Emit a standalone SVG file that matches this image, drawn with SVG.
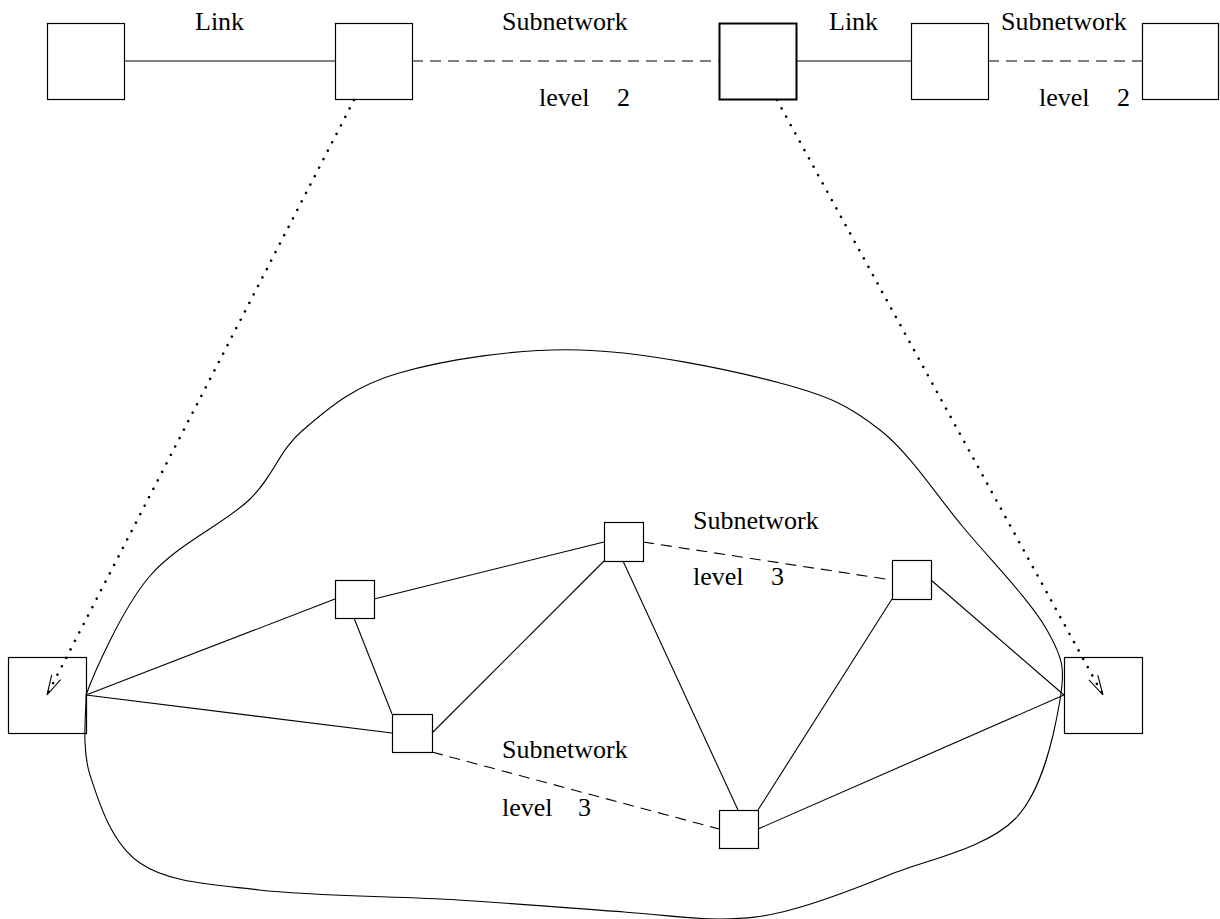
<svg xmlns="http://www.w3.org/2000/svg" width="1220" height="919" viewBox="0 0 1220 919">
<style>
.box{fill:none;stroke:#000;stroke-width:1.2}
.thick{stroke-width:2}
.ln{fill:none;stroke:#000;stroke-width:1.1}
.dash{stroke-dasharray:11 7}
.dot{fill:none;stroke:#000;stroke-width:2.6;stroke-linecap:round;stroke-dasharray:0.01 9.5}
.blob{fill:none;stroke:#000;stroke-width:1.1}
.lbl{font-family:'Liberation Serif','Times New Roman',Times,serif;font-size:26px;fill:#000}
</style>
<defs>
<marker id="vee" markerUnits="userSpaceOnUse" markerWidth="24" markerHeight="14" refX="0" refY="0" viewBox="-22 -7 24 14" orient="auto" overflow="visible">
<path d="M -20,-5 L 0,0 L -20,5" fill="none" stroke="#000" stroke-width="1.1" stroke-dasharray="none"/>
</marker>
</defs>
<g id="blob">
<path class="blob" d="M 86,695 C 94,673 121.8,609.5 149,577 C 176.2,544.5 223.3,524.5 249,500 C 274.7,475.5 278,451.2 303,430 C 328,408.8 352.8,386.3 399,373 C 445.2,359.7 516.5,348.3 580,350 C 643.5,351.7 730,369.7 780,383 C 830,396.3 849.5,406 880,430 C 910.5,454 935.2,493.7 963,527 C 990.8,560.3 1030.8,601.2 1047,630 C 1063.2,658.8 1065.3,668.5 1060,700 C 1054.7,731.5 1043.5,789.8 1015,819 C 986.5,848.2 926.5,859.8 889,875 C 851.5,890.2 818.2,902.7 790,910 C 761.8,917.3 747.7,918.7 720,919 C 692.3,919.3 667.7,915.2 624,912 C 580.3,908.8 518.8,903.7 458,900 C 397.2,896.3 312,896.2 259,890 C 206,883.8 168.2,882.2 140,863 C 111.8,843.8 99,803 90,775 C 81,747 86.7,708.3 86,695 Z"/>
</g>
<g id="connectors">
<line class="ln" x1="124" y1="61" x2="335" y2="61"/>
<line class="ln dash" x1="412" y1="61" x2="719" y2="61"/>
<line class="ln" x1="796" y1="61" x2="911" y2="61"/>
<line class="ln dash" x1="988" y1="61" x2="1142" y2="61"/>
<line class="ln" x1="86" y1="695" x2="335" y2="599"/>
<line class="ln" x1="86" y1="695" x2="392" y2="733"/>
<line class="ln" x1="374" y1="599" x2="604" y2="542"/>
<line class="ln" x1="354" y1="618" x2="392" y2="714"/>
<line class="ln" x1="432" y1="733" x2="604" y2="561"/>
<line class="ln" x1="623" y1="561" x2="738" y2="810"/>
<line class="ln dash" x1="643" y1="542" x2="892" y2="580"/>
<line class="ln" x1="892" y1="599" x2="758" y2="810"/>
<line class="ln" x1="931" y1="580" x2="1064" y2="695"/>
<line class="ln" x1="758" y1="829" x2="1064" y2="695"/>
<line class="ln dash" x1="432" y1="752" x2="719" y2="829"/>
<line class="dot" x1="354" y1="100" x2="47" y2="695" marker-end="url(#vee)"/>
<line class="dot" x1="777" y1="100" x2="1103" y2="695" marker-end="url(#vee)"/>
</g>
<g id="n-top1"><rect class="box" x="47.5" y="23.5" width="77" height="76"/></g>
<g id="n-top2"><rect class="box" x="335.5" y="23.5" width="77" height="76"/></g>
<g id="n-top3"><rect class="box thick" x="719.5" y="23.5" width="77" height="76"/></g>
<g id="n-top4"><rect class="box" x="911.5" y="23.5" width="77" height="76"/></g>
<g id="n-top5"><rect class="box" x="1142.5" y="23.5" width="76" height="76"/></g>
<g id="n-left"><rect class="box" x="8.5" y="657.5" width="78" height="76"/></g>
<g id="n-right"><rect class="box" x="1064.5" y="657.5" width="78" height="76"/></g>
<g id="n-p1"><rect class="box" x="335.5" y="580.5" width="39" height="38"/></g>
<g id="n-p2"><rect class="box" x="392.5" y="714.5" width="40" height="38"/></g>
<g id="n-p3"><rect class="box" x="604.5" y="522.5" width="39" height="39"/></g>
<g id="n-p4"><rect class="box" x="892.5" y="560.5" width="39" height="39"/></g>
<g id="n-p5"><rect class="box" x="719.5" y="810.5" width="39" height="38"/></g>
<g id="labels" font-family="Liberation Serif, Times New Roman, serif" font-size="26">
<text class="lbl" x="195" y="30">Link</text>
<text class="lbl" x="502" y="30">Subnetwork</text>
<text class="lbl" x="539" y="106">level</text>
<text class="lbl" x="617" y="106">2</text>
<text class="lbl" x="829" y="30">Link</text>
<text class="lbl" x="1001" y="30">Subnetwork</text>
<text class="lbl" x="1039" y="106">level</text>
<text class="lbl" x="1117" y="106">2</text>
<text class="lbl" x="693" y="529">Subnetwork</text>
<text class="lbl" x="693" y="585">level</text>
<text class="lbl" x="771" y="585">3</text>
<text class="lbl" x="502" y="758">Subnetwork</text>
<text class="lbl" x="502" y="816">level</text>
<text class="lbl" x="578" y="816">3</text>
</g>
</svg>
